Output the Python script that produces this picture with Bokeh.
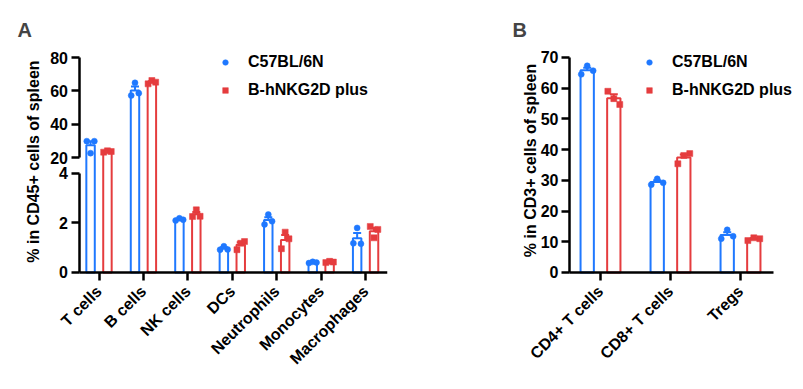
import numpy as np
from bokeh.plotting import figure
from bokeh.layouts import row
from bokeh.models import Range1d, FixedTicker, Legend, LegendItem, LinearAxis
from bokeh.embed import file_html
from bokeh.resources import INLINE
from bokeh.core.properties import value

# ---------------- data ----------------
series = ["C57BL/6N", "B-hNKG2D plus"]

cats_a = ["T cells", "B cells", "NK cells", "DCs", "Neutrophils", "Monocytes", "Macrophages"]
wt_a = [[29.8, 22.6, 29.8], [57.2, 64.8, 58.6], [2.10, 2.19, 2.13], [0.92, 1.06, 0.93],
        [1.94, 2.34, 2.07], [0.38, 0.43, 0.40], [1.18, 1.80, 1.16]]
ko_a = [[23.2, 24.0, 23.6], [64.2, 66.2, 65.2], [2.26, 2.53, 2.27], [0.92, 1.18, 1.25],
        [0.96, 1.63, 1.36], [0.40, 0.45, 0.42], [1.86, 1.40, 1.74]]

cats_b = ["CD4+ T cells", "CD8+ T cells", "Tregs"]
wt_b = [[64.5, 67.3, 65.7], [28.6, 30.5, 29.2], [11.0, 13.9, 11.8]]
ko_b = [[59.0, 56.6, 54.7], [35.4, 38.1, 38.7], [10.4, 11.3, 11.0]]

ticks_a_top = [20, 40, 60, 80]
ticks_a_bot = [0, 2, 4]
ticks_b = [0, 10, 20, 30, 40, 50, 60, 70]

ylabel_a = "% in CD45+ cells of spleen"
ylabel_b = "% in CD3+ cells of spleen"

# ---------------- style ----------------
FONT = "Liberation Sans"
COLORS = ["#1f78ff", "#e53c3e"]
MARKERS = ["circle", "square"]
OFFS = [-0.19, 0.19]
BAR_W = 0.19
JIT = np.array([-0.085, 0.0, 0.085])
H = 385


def style_yaxis(ax, yticks, ybounds):
    ax.ticker = FixedTicker(ticks=yticks)
    ax.bounds = ybounds
    ax.axis_line_width = 2.5
    ax.major_tick_line_width = 2.5
    ax.major_tick_out = 8
    ax.major_tick_in = 0
    ax.minor_tick_line_color = None
    ax.major_label_text_font = FONT
    ax.major_label_text_font_style = "bold"
    ax.major_label_text_font_size = "16px"
    ax.major_label_text_color = "black"
    ax.major_label_standoff = 3


def style_xaxis(ax, cats, xbounds):
    ax.ticker = FixedTicker(ticks=list(range(len(cats))))
    ax.major_label_overrides = {i: c for i, c in enumerate(cats)}
    ax.bounds = xbounds
    ax.axis_line_width = 2.5
    ax.major_tick_line_width = 2.5
    ax.major_tick_out = 8
    ax.major_tick_in = 0
    ax.minor_tick_line_color = None
    ax.major_label_orientation = np.pi / 4
    ax.major_label_text_font = FONT
    ax.major_label_text_font_style = "bold"
    ax.major_label_text_font_size = "16px"
    ax.major_label_text_color = "black"
    ax.major_label_standoff = 8


def make_panel(width, title, title_offset, xr, yr):
    p = figure(width=width, height=H, x_range=xr, y_range=yr,
               min_border_left=0, min_border_right=3, min_border_top=45,
               min_border_bottom=0, toolbar_location=None, output_backend="svg",
               title=title, x_axis_location=None, y_axis_location=None)
    p.grid.visible = False
    p.outline_line_color = None
    p.title.text_font = FONT
    p.title.text_font_style = "bold"
    p.title.text_font_size = "20px"
    p.title.align = "left"
    p.title.offset = title_offset
    return p


def add_ylabel(p, text, x, y):
    p.text(x=[x], y=[y], text=[text], angle=np.pi / 2, text_align="center",
           text_baseline="middle", text_font=value(FONT), text_font_style="bold",
           text_font_size="16px", text_color="black")


def map_between(v, r_from, r_to):
    """Value in r_to that sits at the same screen height as v in r_from."""
    f = (v - r_from.start) / (r_from.end - r_from.start)
    return r_to.start + f * (r_to.end - r_to.start)


def draw(p, cats, groups, split=None, lo_range=None, hi_range=None):
    """Bars, SEM whiskers and points. Bars whose mean lies above `split`
    are drawn on the upper (broken-axis) range."""
    idx = np.arange(len(cats))
    rends = []
    for k, vals in enumerate(groups):
        arr = np.array(vals, dtype=float)
        mean = arr.mean(axis=1)
        sem = arr.std(axis=1, ddof=1) / np.sqrt(arr.shape[1])
        col = COLORS[k]
        x = idx + OFFS[k]
        parts = [(np.ones(len(cats), bool), "default", 0.0)]
        if split is not None:
            hi = mean > split
            parts = [(~hi, "default", 0.0),
                     (hi, "top", map_between(0.0, lo_range, hi_range))]
        for m, rname, base in parts:
            if not m.any():
                continue
            p.vbar(x=x[m], top=mean[m], bottom=base, width=BAR_W, fill_color="white",
                   line_color=col, line_width=2, y_range_name=rname)
            p.segment(x0=x[m], y0=mean[m], x1=x[m], y1=(mean + sem)[m], line_color=col,
                      line_width=2, y_range_name=rname)
            p.scatter(x=x[m], y=(mean + sem)[m], marker="dash", size=8, line_color=col,
                      line_width=2, y_range_name=rname)
            px = (x[m][:, None] + JIT[None, :]).ravel()
            py = arr[m].ravel()
            r = p.scatter(x=px, y=py, marker=MARKERS[k], size=6, fill_color=col,
                          line_color=col, line_width=0.5, y_range_name=rname)
        rends.append(r)
    return rends


def add_legend(p, rends, loc):
    leg = Legend(items=[LegendItem(label=s, renderers=[r]) for s, r in zip(series, rends)],
                 location=loc, glyph_width=14, glyph_height=14, label_height=20,
                 label_standoff=16, spacing=8, padding=0, margin=0,
                 border_line_color=None, background_fill_alpha=0,
                 label_text_font=FONT, label_text_font_style="bold",
                 label_text_font_size="16px", label_text_color="black")
    p.add_layout(leg)


# ---------------- panel A (broken y axis) ----------------
xr_a = Range1d(-2.217, 6.493)
YA_X = -0.45
bot_range = Range1d(-4.566, 9.17)
top_range = Range1d(-116.8, 87.2)
pA = make_panel(390, "A", 17, xr_a, bot_range)
pA.extra_y_ranges = {"top": top_range}

ax = LinearAxis(fixed_location=YA_X)
style_yaxis(ax, ticks_a_bot, (0, 4))
pA.add_layout(ax, "left")
ax = LinearAxis(y_range_name="top", fixed_location=YA_X)
style_yaxis(ax, ticks_a_top, (20, 80))
pA.add_layout(ax, "left")
ax = LinearAxis(fixed_location=0)
style_xaxis(ax, cats_a, (YA_X, xr_a.end))
pA.add_layout(ax, "below")

add_ylabel(pA, ylabel_a, -1.47, 4.48)
rA = draw(pA, cats_a, [wt_a, ko_a], split=ticks_a_bot[-1], lo_range=bot_range,
          hi_range=top_range)
add_legend(pA, rA, (218, 285))

# ---------------- panel B ----------------
xr_b = Range1d(-3.0, 2.857)
YB_X = -0.443
yr_b = Range1d(-36.79, 73.9)
pB = make_panel(413, "B", 122, xr_b, yr_b)

ax = LinearAxis(fixed_location=YB_X)
style_yaxis(ax, ticks_b, (0, 70))
pB.add_layout(ax, "left")
ax = LinearAxis(fixed_location=0)
style_xaxis(ax, cats_b, (YB_X, 2.471))
pB.add_layout(ax, "below")

add_ylabel(pB, ylabel_b, -1.0, 36.47)
rB = draw(pB, cats_b, [wt_b, ko_b])
add_legend(pB, rB, (252, 285))

layout = row(pA, pB)
open("out.html", "w").write(file_html(layout, INLINE))
